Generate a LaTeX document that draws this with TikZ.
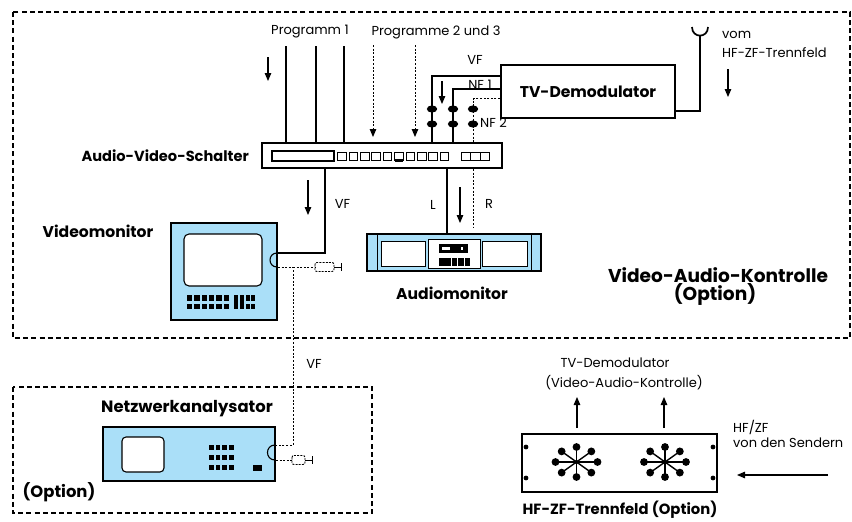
\documentclass[tikz,border=0pt]{standalone}
\usepackage{fontspec}
\setmainfont{Poppins}
\usetikzlibrary{arrows.meta,calc}
\definecolor{panelblue}{RGB}{170,223,248}
\begin{document}
\begin{tikzpicture}[x=1pt,y=-1pt,
  txt/.style={font=\fontsize{13}{15}\selectfont, inner sep=0pt},
  btxt/.style={font=\fontsize{#1}{17}\selectfont\bfseries, inner sep=0pt},
  btxt/.default=15.6,
  optframe/.style={line width=1.8pt, dash pattern=on 5pt off 3.2pt},
  wire/.style={line width=1.1pt},
  sigline/.style={line width=1pt, dash pattern=on 2pt off 1.6pt},
  flow/.style={line width=1.1pt, -{Triangle[length=8pt,width=6.5pt]}},
  sigflow/.style={sigline, -{Triangle[length=8pt,width=6.5pt]}},
  unit/.style={draw, line width=2pt, inner sep=0pt},
  plug/.style={line width=0.9pt, dash pattern=on 2pt off 1.2pt, rounded corners=2pt},
  pics/plugend/.style={code={
    \draw[plug] (0,-4.5) rectangle (#1,4.5);
    \draw[line width=0.9pt] (#1,0) -- ({#1+7},0) ({#1+7},-4) -- ({#1+7},4);
  }},
]
\useasboundingbox (0,0) rectangle (852,522);
\fill[white] (0,0) rectangle (852,522);

% ---------- option frames ----------
\draw[optframe] (13,12) rectangle (850,338);
\draw[optframe] (13,387) rectangle (372,513);

% ---------- main units ----------
\node[unit, minimum width=240, minimum height=25] (avs) at (382,155.5) {};
\node[unit, minimum width=174, minimum height=53, btxt] (demod) at (588,91.5) {TV-Demodulator};
\node[unit, fill=panelblue, minimum width=106, minimum height=97] (vm) at (224,271.5) {};
\node[unit, fill=panelblue, minimum width=174, minimum height=37] (am) at (454,252.5) {};
\node[unit, fill=panelblue, minimum width=172, minimum height=54] (na) at (189,454) {};
\node[unit, minimum width=195, minimum height=58] (hfzf) at (619.5,463) {};

% ---------- switch front panel ----------
\draw[line width=1.2pt] (272,151) rectangle (334,161);
\foreach \i in {0,...,9}
  \draw[line width=1pt] ({337.7+\i*11.4},152) rectangle ++(8.6,8);
\draw[line width=2.4pt] (394.7,160.6) -- ++(8.6,0);
\foreach \i in {0,1,2}
  \draw[line width=1pt] ({461+\i*9.6},152) rectangle ++(9.6,8);

% ---------- program inputs ----------
\foreach \x [count=\k] in {286,316,344} {
  \coordinate (prog\k) at (\x,46);
  \draw[wire] (prog\k) -- (prog\k |- avs.north);
}
\coordinate (progB) at (373,45);
\coordinate (progC) at (415,45);
\draw[sigflow] (progB) -- ($(progB |- avs.north)+(0,-5)$);
\draw[sigflow] (progC) -- ($(progC |- avs.north)+(0,-5)$);

\node[txt] (lprog1) at (310,32) {Programm 1};
\node[txt] (lprog23) at (436,32) {Programme 2 und 3};

% ---------- demodulator outputs ----------
\coordinate (vfj) at (432,76);
\coordinate (nf1j) at (453,89);
\coordinate (nf2j) at (473,98.7);
\draw[wire] (demod.west |- vfj) -| (vfj |- avs.north);
\draw[wire] (demod.west |- nf1j) -| (nf1j |- avs.north);
\draw[sigline] (demod.west |- nf2j) -| (nf2j |- avs.north);
\foreach \x in {432,453,473}
  \foreach \y in {109,124}
    \fill (\x,\y) ellipse [x radius=5.2, y radius=3.6];
\node[txt] (lvfd) at (475,60) {VF};
\node[txt, anchor=base] (lnf1) at (480,89.5) {NF 1};
\node[txt, anchor=west] (lnf2) at (480,123) {NF 2};

% ---------- antenna input ----------
\coordinate (ant) at (700,111);
\coordinate (anttop) at (700,36);
\draw[wire] (demod.east |- ant) -- (ant) -- (anttop);
\draw[line width=1.7pt] (692,27) .. controls (692,38.5) and (708,38.5) .. (708,27);
\node[txt, anchor=west] (lvom) at (722,35) {vom};
\node[txt, anchor=west] (lvomhf) at (722,53) {HF-ZF-Trennfeld};

% ---------- direction arrows ----------
\coordinate (fa1) at (268,57);
\coordinate (fa2) at (442,81);
\coordinate (fa3) at (728,69);
\coordinate (fa4) at (308,180);
\coordinate (fa5) at (460,187);
\draw[flow] (fa1) -- ++(0,24);
\draw[flow] (fa2) -- ++(0,23);
\draw[flow] (fa3) -- ++(0,28);
\draw[flow] (fa4) -- ++(0,35);
\draw[flow] (fa5) -- ++(0,36);

% ---------- switch outputs ----------
\node[btxt=14.6, anchor=east] (lavs) at (249,156) {Audio-Video-Schalter};
\coordinate (vfc) at (325,253);
\draw[wire] (vfc |- avs.south) -- (vfc) -- (vm.east |- vfc);
\node[txt] (lvf1) at (342.5,204) {VF};
\coordinate (lx) at (447,200);
\draw[wire] (lx |- avs.south) -- (lx |- am.north);
\node[txt] (ll) at (433,205) {L};
\coordinate (rend) at (473,228);
\draw[sigline] (rend |- avs.south) -- (rend);
\node[txt] (lr) at (489,204) {R};

% ---------- video monitor ----------
\node[btxt] (lvm) at (98,231) {Videomonitor};
\draw[line width=1.1pt, fill=white, rounded corners=5pt] (184,234) rectangle (262,286);
\foreach \i in {0,...,5} {
  \fill ({187+\i*7.3},295) rectangle ++(5.3,5.5);
  \fill ({187+\i*7.3},303.5) rectangle ++(5.3,5.5);
}
\fill (233.5,295) rectangle (238,309);
\fill (239.5,295) rectangle (244,309);
\fill (246,295) rectangle (249.5,300.5);
\fill (246,303.5) rectangle (249.5,309);
\fill (251,295) rectangle (254.5,300.5);
\fill (251,303.5) rectangle (254.5,309);
\coordinate (vmport) at (277,260);
\draw[line width=1.1pt] ($(vmport)+(0,-7)$) .. controls +(-9.3,0) and +(-9.3,0) .. ($(vmport)+(0,7)$);

% ---------- audio monitor ----------
\draw[line width=1pt] (377,234) -- (377,271) (531,234) -- (531,271);
\draw[line width=1pt, fill=white] (381,241) rectangle (425,266);
\draw[line width=1pt, fill=white] (428,239) rectangle (480,268);
\draw[line width=1pt, fill=white] (482,241) rectangle (527,266);
\fill (439,244) rectangle (468,252.5);
\fill[white] (442,247) rectangle (450,249.5);
\fill[white] (461,247) rectangle (463,249.5);
\foreach \i in {0,...,4}
  \fill ({439+\i*6.4},258) rectangle ++(5.6,8);
\node[btxt] (lam) at (452,293) {Audiomonitor};

% ---------- VF to network analyser ----------
\coordinate (vfd) at (293,267);
\coordinate (vfn) at (293,445);
\draw[sigline] (vm.east |- vfd) -- (vfd) -- (vfn) -- (na.east |- vfn);
\coordinate (vmplug) at (315,267);
\draw[sigline] (vfd) -- (vmplug);
\pic (vmplugend) at (vmplug) {plugend=19};
\node[txt] (lvf2) at (314,364) {VF};

\node[btxt=18.6] (lvak) at (718,275) {Video-Audio-Kontrolle};
\node[btxt=18.6] (lvako) at (715,294) {(Option)};

% ---------- network analyser ----------
\node[btxt=16.4] (lna) at (187,409) {Netzwerkanalysator};
\node[btxt=16.4] (lnao) at (59,492) {(Option)};
\draw[line width=1.1pt, fill=white, rounded corners=4pt] (122,437) rectangle (164,472);
\foreach \r in {445,455,465}
  \foreach \i in {0,...,3}
    \fill ({209+\i*6.7},\r) rectangle ++(4.6,4.6);
\fill (253,465) rectangle (262,471);
\coordinate (naport) at (275,452.5);
\draw[line width=1.1pt] ($(naport)+(0,-7.5)$) .. controls +(-10,0) and +(-10,0) .. ($(naport)+(0,7.5)$);
\coordinate (naplug) at (292,460);
\draw[sigline] (na.east |- naplug) -- (naplug);
\pic (naplugend) at (naplug) {plugend=13};

% ---------- HF/IF splitter panel ----------
\foreach \p in {(526,447),(526,478),(713,447),(713,478)}
  \fill \p circle[radius=2.4];
\coordinate (stara) at (576.5,462);
\coordinate (starb) at (665,462);
\foreach \s in {stara,starb} {
  \foreach \a in {0,45,...,315} {
    \draw[line width=1.4pt] (\s) -- ++({21*cos(\a)},{15*sin(\a)});
    \fill ($(\s)+({21*cos(\a)},{15*sin(\a)})$) circle[radius=3.9];
  }
  \fill (\s) circle[radius=2];
}
\coordinate (upa) at (577,428);
\coordinate (upb) at (664,428);
\draw[flow] (upa) -- ++(0,-31);
\draw[flow] (upb) -- ++(0,-31);
\node[txt] (ltvd) at (615,363) {TV-Demodulator};
\node[txt] (ltvdv) at (624,383) {(Video-Audio-Kontrolle)};
\coordinate (hfin) at (828,475);
\coordinate (hfend) at (737,475);
\draw[flow] (hfin) -- (hfend);
\node[txt, anchor=west] (lhf) at (733,427) {HF/ZF};
\node[txt, anchor=west] (lhfs) at (733,443) {von den Sendern};
\node[btxt=14.8] (lhfzf) at (620,510) {HF-ZF-Trennfeld (Option)};
\end{tikzpicture}
\end{document}
